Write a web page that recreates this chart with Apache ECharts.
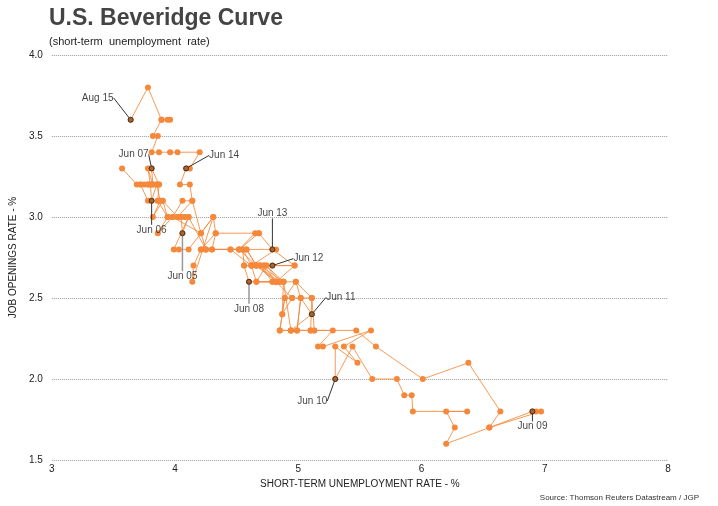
<!DOCTYPE html>
<html>
<head>
<meta charset="utf-8">
<script src="https://cdn.jsdelivr.net/npm/echarts@6/dist/echarts.min.js"></script>
<style>
html,body{margin:0;padding:0;background:#fff;}
#c{width:718px;height:506px;}
</style>
</head>
<body>
<div id="c"></div>
<script>
// Monthly observations, Jan 2001 - Aug 2015
var years = ['01','02','03','04','05','06','07','08','09','10','11','12','13','14','15'];
var monthNames = ['Jan','Feb','Mar','Apr','May','Jun','Jul','Aug','Sep','Oct','Nov','Dec'];

// short-term unemployment rate (%)
var unemp = [
  3.57,3.69,3.72,3.78,3.86,3.94,3.98,4.21,4.25,4.52,4.66,4.72,
  4.62,4.56,4.69,4.82,4.85,4.74,4.88,4.79,4.66,4.82,4.95,4.89,
  4.87,4.85,4.94,4.99,5.02,4.98,4.89,4.85,4.94,4.88,4.69,4.66,
  4.58,4.55,4.62,4.45,4.52,4.65,4.68,4.33,4.30,4.21,4.15,4.14,
  4.31,4.11,4.03,3.99,4.11,4.06,4.05,4.02,4.14,4.06,3.98,3.86,
  3.94,3.90,3.82,3.88,3.85,3.81,3.80,3.87,3.78,3.75,3.82,3.78,
  3.80,3.85,3.78,3.72,3.82,3.81,3.87,3.86,3.90,4.02,4.08,4.05,
  4.11,4.25,4.30,4.55,4.56,4.60,4.98,5.11,5.10,5.47,5.63,6.01,
  6.38,6.64,6.55,6.97,6.93,6.90,6.55,6.20,6.27,6.20,6.37,5.93,
  5.92,5.86,5.80,5.60,5.44,5.30,5.30,5.48,5.37,5.59,5.20,5.16,
  5.28,5.13,5.10,4.99,5.02,5.11,4.94,5.13,5.11,4.95,4.87,4.88,
  4.85,4.66,4.82,4.79,4.69,4.79,4.72,4.82,4.97,4.74,4.66,4.62,
  4.82,4.58,4.66,4.62,4.97,4.79,4.68,4.52,4.45,4.25,4.21,4.33,
  4.31,4.21,4.14,4.12,4.04,4.09,4.12,4.20,4.02,3.96,3.87,3.81,
  3.86,3.82,3.89,3.96,3.94,3.89,3.78,3.64
];
// job openings rate (%)
var openings = [
  3.3,3.2,3.2,3.1,3.1,3.0,3.0,2.9,2.8,2.8,2.7,2.7,
  2.7,2.7,2.7,2.6,2.6,2.7,2.6,2.6,2.6,2.6,2.5,2.5,
  2.4,2.3,2.3,2.3,2.5,2.6,2.5,2.3,2.3,2.6,2.7,2.7,
  2.8,2.8,2.7,2.8,2.8,2.9,2.9,2.9,2.8,2.8,2.7,2.6,
  3.0,2.8,2.8,2.8,3.0,2.9,3.0,3.0,3.1,3.1,3.0,2.9,
  3.0,3.1,3.0,3.1,3.2,3.1,3.2,3.2,3.2,3.2,3.2,3.3,
  3.2,3.2,3.2,3.2,3.2,3.3,3.2,3.1,3.1,3.0,3.0,3.0,
  3.0,2.8,2.8,2.8,2.7,2.6,2.6,2.5,2.3,2.3,2.2,2.0,
  2.1,1.8,1.7,1.8,1.8,1.8,1.7,1.6,1.7,1.8,1.8,1.8,
  1.9,1.9,2.0,2.0,2.2,2.0,2.2,2.1,2.2,2.3,2.2,2.2,
  2.3,2.3,2.3,2.3,2.5,2.4,2.3,2.3,2.5,2.5,2.4,2.6,
  2.6,2.7,2.6,2.6,2.7,2.7,2.7,2.6,2.7,2.7,2.6,2.7,
  2.8,2.8,2.7,2.7,2.7,2.8,2.9,2.8,2.8,2.8,2.8,2.9,
  3.0,2.9,3.1,3.2,3.2,3.3,3.3,3.4,3.4,3.4,3.4,3.4,
  3.5,3.5,3.6,3.6,3.6,3.6,3.8,3.6
];
var labelled = ['Jun 05','Jun 06','Jun 07','Jun 08','Jun 09','Jun 10','Jun 11','Jun 12','Jun 13','Jun 14','Aug 15'];
// label offsets (px) from the point
var labelDx = [0, 0, -18, 0, 0, -23, 29, 36, 0, 38, -33];
var labelDy = [43, 29, -14, 27, 15, 22, -17, -7, -36, -13, -22];
var leaderColor = ['#999','#333','#333','#999','#333','#333','#333','#333','#333','#333','#333'];
var xTicks = [3,4,5,6,7,8];
var yTicks = [1.5,2.0,2.5,3.0,3.5,4.0];

var months = [];
years.forEach(function(y){ monthNames.forEach(function(m){ months.push(m + ' ' + y); }); });
var lineData = unemp.map(function(u, i){ return [u, openings[i]]; });
var markData = labelled.map(function(lab, k){
  var i = months.indexOf(lab);
  return {value: [unemp[i], openings[i]], name: lab,
          labelLine: {lineStyle: {color: leaderColor[k], width: leaderColor[k] === '#999' ? 1.5 : 1}}};
});

var chart = echarts.init(document.getElementById('c'));
var orange = '#f5883a';
chart.setOption({
  animation: false,
  textStyle: {fontFamily: 'Liberation Sans, Arial, sans-serif'},
  title: [
    {text: 'U.S. Beveridge Curve', left: 49, top: 7, padding: 0,
     textStyle: {fontSize: 23, fontWeight: 'bold', color: '#444', fontFamily: 'Liberation Sans'}},
    {text: '(short-term  unemployment  rate)', left: 49, top: 36, padding: 0,
     textStyle: {fontSize: 11, fontWeight: 'normal', color: '#222', fontFamily: 'Liberation Sans'}},
    {text: 'Source: Thomson Reuters Datastream / JGP', right: 19, top: 494, padding: 0,
     textStyle: {fontSize: 8, fontWeight: 'normal', color: '#333', fontFamily: 'Liberation Sans'}}
  ],
  grid: {left: 49, right: 50, top: 55, bottom: 46},
  xAxis: {
    type: 'value', min: xTicks[0], max: xTicks[xTicks.length-1], interval: 1,
    name: 'SHORT-TERM UNEMPLOYMENT RATE - %', nameLocation: 'middle', nameGap: 12,
    nameTextStyle: {fontSize: 10, color: '#222'},
    axisLine: {show: false}, axisTick: {show: false}, splitLine: {show: false},
    axisLabel: {fontSize: 10, color: '#222', margin: 4}
  },
  yAxis: {
    type: 'value', min: yTicks[0], max: yTicks[yTicks.length-1], interval: 0.5,
    name: 'JOB OPENINGS RATE - %', nameLocation: 'middle', nameGap: 30,
    nameTextStyle: {fontSize: 10, color: '#222'},
    axisLine: {show: false}, axisTick: {show: false},
    splitLine: {show: true, lineStyle: {type: 'dotted', color: '#999', width: 1}},
    axisLabel: {fontSize: 10, color: '#222', margin: 9, formatter: function(v){ return v.toFixed(1); }}
  },
  series: [
    {
      type: 'line', data: lineData, symbol: 'circle', symbolSize: 6, showSymbol: true,
      itemStyle: {color: orange},
      lineStyle: {color: orange, width: 1, opacity: 0.85},
      z: 2
    },
    {
      type: 'scatter', data: markData, symbol: 'circle', symbolSize: 5,
      itemStyle: {color: '#9a5a2a', borderColor: '#222', borderWidth: 1},
      label: {show: true, position: 'inside', formatter: '{b}', fontSize: 10, color: '#111'},
      labelLayout: function(p){ return {dx: labelDx[p.dataIndex], dy: labelDy[p.dataIndex]}; },
      labelLine: {show: true, lineStyle: {color: '#333', width: 1}},
      z: 5
    }
  ]
});
</script>
</body>
</html>
